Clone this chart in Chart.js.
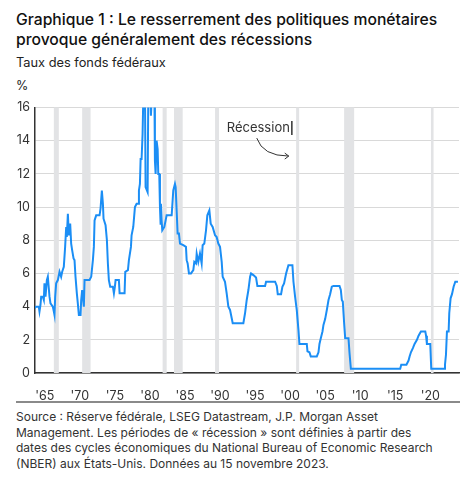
<!DOCTYPE html>
<html>
<head>
<meta charset="utf-8">
<script src="https://cdn.jsdelivr.net/npm/chart.js@4"></script>
<style>
body{margin:0;background:#fff;font-family:Inter,"Noto Sans",sans-serif;color:#222;}
#page{position:relative;width:476px;height:480px;overflow:hidden;}
.t{position:absolute;left:16px;white-space:nowrap;}
#title{top:10px;font-size:15.7px;line-height:20px;font-weight:500;color:#111;}
#sub{top:55px;font-size:12.8px;color:#222;}
#unit{top:78px;font-size:12.5px;color:#222;}
#rule{position:absolute;left:16px;top:401px;width:444px;height:2px;background:#8a8a8a;}
#note{top:409px;font-size:12px;line-height:15.7px;color:#333;}
#box{position:absolute;left:0;top:95px;width:476px;height:305px;}
</style>
</head>
<body>
<div id="page">
<div class="t" id="title">Graphique 1 : Le resserrement des politiques monétaires<br>provoque généralement des récessions</div>
<div class="t" id="sub">Taux des fonds fédéraux</div>
<div class="t" id="unit">%</div>
<div id="box"><canvas id="c"></canvas></div>
<div id="rule"></div>
<div class="t" id="note">Source : Réserve fédérale, LSEG Datastream, J.P. Morgan Asset<br>Management. Les périodes de « récession » sont définies à partir des<br>dates des cycles économiques du National Bureau of Economic Research<br>(NBER) aux États-Unis. Données au 15 novembre 2023.</div>
</div>
<script>
// taux des fonds fédéraux
const years=[1963.52,1963.76,1964.14,1964.24,1964.38,1964.48,1964.71,1964.86,1964.95,1965.10,1965.29,1965.43,1965.57,1965.67,1965.81,1966.14,1966.29,1966.38,1966.48,1966.62,1966.86,1967.10,1967.33,1967.48,1967.71,1967.90,1968.05,1968.14,1968.29,1968.43,1968.62,1968.76,1968.90,1969.10,1969.24,1969.38,1969.57,1969.71,1969.86,1970.10,1970.19,1970.33,1970.43,1970.57,1970.67,1971.38,1971.62,1971.86,1972.00,1972.10,1972.33,1972.81,1972.95,1973.14,1973.29,1973.38,1973.67,1973.86,1974.00,1974.14,1974.33,1974.71,1974.86,1975.00,1975.10,1975.57,1975.67,1976.38,1976.48,1976.86,1977.00,1977.29,1977.38,1977.62,1977.86,1978.10,1978.33,1978.43,1978.57,1978.67,1978.81,1978.95,1979.05,1979.19,1979.29,1979.38,1979.67,1979.76,1980.00,1980.14,1980.24,1980.48,1980.62,1980.71,1980.81,1980.95,1981.10,1981.19,1981.33,1981.43,1981.52,1981.57,1981.67,1981.76,1982.05,1982.24,1982.38,1983.10,1983.24,1983.33,1983.57,1983.67,1983.81,1983.95,1984.14,1984.29,1984.76,1985.14,1985.24,1985.38,1985.57,1985.86,1986.19,1986.33,1986.57,1986.67,1986.90,1987.14,1987.38,1987.52,1987.76,1988.00,1988.19,1988.48,1988.67,1988.95,1989.29,1989.52,1989.76,1990.00,1990.24,1990.38,1990.71,1990.95,1991.19,1991.43,1991.67,1991.81,1993.33,1993.57,1993.81,1994.05,1994.29,1994.43,1994.76,1995.14,1995.33,1996.43,1996.57,1997.86,1998.10,1998.24,1998.71,1998.90,1999.14,1999.43,1999.76,2000.33,2000.48,2000.71,2000.95,2001.19,2001.33,2002.38,2002.48,2002.76,2002.95,2003.81,2004.05,2004.19,2004.38,2004.62,2004.76,2005.00,2005.24,2005.48,2005.71,2005.95,2006.19,2007.05,2007.24,2007.38,2007.52,2007.71,2007.86,2008.33,2008.48,2008.67,2015.71,2015.86,2016.60,2016.90,2017.05,2017.24,2017.52,2017.76,2018.10,2018.33,2018.67,2019.29,2019.40,2019.52,2020.00,2020.14,2022.00,2022.10,2022.24,2022.38,2022.62,2022.71,2022.90,2023.10,2023.33,2023.57,2023.95];
const rates=[3.9,4.0,4.0,3.7,4.1,4.6,4.6,4.4,5.4,4.6,5.6,5.8,5.1,4.6,4.2,4.0,3.7,3.5,4.6,5.4,5.6,6.1,5.8,6.1,6.4,7.6,8.8,8.2,9.6,8.3,9.0,7.8,7.4,6.9,6.8,5.8,4.8,4.2,3.5,3.5,4.4,5.0,5.0,4.0,5.6,5.6,5.8,6.8,7.6,9.2,9.5,9.5,9.9,11.0,10.2,9.3,8.9,8.0,6.6,5.6,5.2,5.2,4.8,5.2,5.6,5.6,4.8,4.8,6.1,6.2,6.8,7.6,8.3,8.8,10.0,10.2,10.2,11.0,11.4,12.9,12.9,14.4,16.5,17.5,17.0,11.2,10.9,16.5,18.0,15.5,16.5,19.0,18.0,12.8,12.0,14.0,13.5,12.0,12.0,10.0,9.0,10.2,9.2,8.6,8.8,9.2,9.5,9.5,10.4,11.0,11.4,11.2,9.8,8.4,8.4,7.8,7.7,7.6,6.8,6.6,6.0,6.0,6.2,6.7,6.6,7.2,6.7,7.2,6.6,7.7,7.8,8.6,9.5,9.8,9.0,8.8,8.3,8.2,7.8,7.6,6.7,5.8,5.5,4.8,4.0,3.8,3.3,3.0,3.0,3.6,4.4,5.0,5.8,6.0,5.9,5.75,5.25,5.25,5.5,5.5,5.25,4.75,4.75,5.2,5.4,6.0,6.5,6.5,5.5,4.6,3.8,2.6,1.75,1.75,1.3,1.25,1.0,1.0,1.25,1.75,2.1,2.5,2.9,3.25,3.8,4.4,4.75,5.2,5.25,5.25,5.0,4.4,4.3,3.0,2.1,2.1,1.2,0.25,0.25,0.5,0.5,0.75,1.0,1.25,1.5,1.75,2.0,2.25,2.5,2.5,2.25,1.75,1.75,0.25,0.25,0.5,1.1,2.5,2.5,3.6,4.5,4.75,5.2,5.5,5.5];
const tickYears=[1965,1970,1975,1980,1985,1990,1995,2000,2005,2010,2015,2020];
const recessionStart=[1966.29,1970.33,1981.81,1983.43,1989.29,2000.86,2007.71,2020.10];
const recessionEnd=[1967.00,1971.53,1982.39,1984.67,1989.86,2001.29,2009.14,2020.47];
const recessionLabel="Récession";
const labelAt={x:1990.96,y:14.76};

const recessionBands={
id:"recessionBands",
beforeDatasetsDraw(chart){
const {ctx,chartArea:a,scales:{x}}=chart;
ctx.save();
ctx.fillStyle="#e2e3e5";
recessionStart.forEach((s,i)=>{
const x0=x.getPixelForValue(s),x1=x.getPixelForValue(recessionEnd[i]);
ctx.fillRect(x0,a.top,x1-x0,a.bottom-a.top);
});
ctx.restore();
}
};

const recessionNote={
id:"recessionNote",
afterDatasetsDraw(chart){
const {ctx,scales:{x,y}}=chart;
const px=x.getPixelForValue(labelAt.x),py=y.getPixelForValue(labelAt.y);
ctx.save();
ctx.font="13px Inter, 'Noto Sans', sans-serif";
ctx.fillStyle="#333";
ctx.textBaseline="middle";
ctx.fillText(recessionLabel,px,py);
const w=ctx.measureText(recessionLabel).width;
ctx.strokeStyle="#333";
ctx.lineWidth=1.5;
ctx.beginPath();ctx.moveTo(px+w+2,py-7);ctx.lineTo(px+w+2,py+7);ctx.stroke();
// fleche courbe
ctx.lineWidth=1;
const sx=px+30,sy=py+10,ex=px+62,ey=py+28;
ctx.beginPath();ctx.moveTo(sx,sy);ctx.quadraticCurveTo(sx+6,ey,ex,ey);ctx.stroke();
ctx.beginPath();ctx.moveTo(ex-4,ey-3);ctx.lineTo(ex,ey);ctx.lineTo(ex-4,ey+3);ctx.stroke();
ctx.restore();
}
};

new Chart(document.getElementById("c"),{
type:"line",
data:{datasets:[{
data:years.map((v,i)=>({x:v,y:rates[i]})),
borderColor:"#1b8ef5",borderWidth:2,pointRadius:0,tension:0,fill:false
}]},
options:{
responsive:true,maintainAspectRatio:false,animation:false,
layout:{padding:{top:12,right:17,left:0,bottom:0}},
plugins:{legend:{display:false},tooltip:{enabled:false}},
scales:{
x:{type:"linear",min:1963.6,max:2024.1,
afterFit(s){s.height=27;},
afterBuildTicks(s){s.ticks=tickYears.map(v=>({value:v}));},
grid:{display:false},
border:{display:true,color:"#333",width:1.5},
ticks:{padding:8,maxRotation:0,autoSkip:false,color:"#333",font:{family:"Inter",size:12.5},
callback:v=>"'"+String(v).slice(2)}},
y:{min:0,max:16,
afterFit(s){s.width=35;},
grid:{color:"#d9d9d9",lineWidth:1,drawTicks:false},
border:{display:true,color:"#333",width:1.5},
ticks:{stepSize:2,padding:5,color:"#333",font:{family:"Inter",size:12.5}}}
}
},
plugins:[recessionBands,recessionNote]
});
</script>
</body>
</html>
